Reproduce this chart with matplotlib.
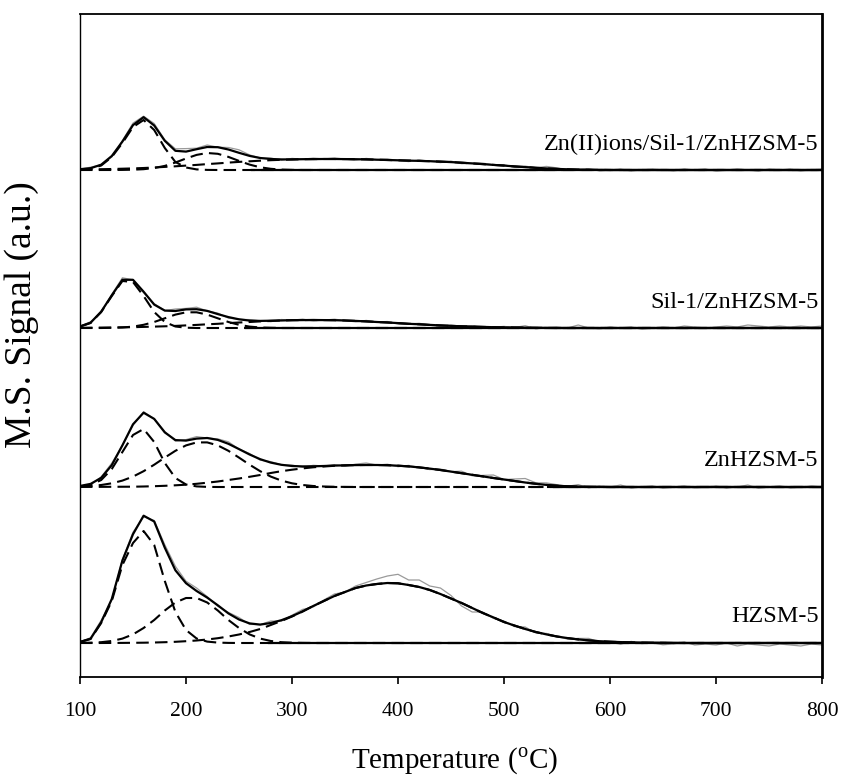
import numpy as np
import matplotlib.pyplot as plt

plt.rcParams['font.family'] = ['Liberation Serif', 'DejaVu Serif']
plt.rcParams['mathtext.fontset'] = 'custom'
plt.rcParams['mathtext.rm'] = 'Liberation Serif'

# temperature grid (deg C), 10 degree steps
temps = np.arange(100, 801, 10)

samples = ["HZSM-5", "ZnHZSM-5", "Sil-1/ZnHZSM-5", "Zn(II)ions/Sil-1/ZnHZSM-5"]

# deconvoluted peaks, starting at 100 C (zero after the list ends)
hzsm_p1 = [1, 4, 20, 42, 78, 100, 112, 98, 62, 31, 13, 4.5, 1.4, 0.4, 0.1]
hzsm_p2 = [0.1, 0.3, 0.8, 2, 4.4, 8.6, 15, 23, 32.5, 40.5, 45, 45, 40.5, 32.5, 23, 15,
           8.6, 4.4, 2, 0.8, 0.3, 0.1]
hzsm_p3 = [0, 0, 0, 0.05, 0.1, 0.2, 0.3, 0.5, 0.8, 1.2, 1.8, 2.5, 3.5, 4.8, 6.5, 8.5,
           11, 14, 18, 22, 26.5, 31.5, 37, 42, 47, 51, 55, 57.5, 59, 60, 59.7, 58, 56,
           53, 49, 44.5, 40, 35, 30, 25.6, 21, 17.4, 14, 11, 8.6, 6.5, 4.9, 3.6, 2.6,
           1.8, 1.3, 0.9, 0.6, 0.4, 0.3, 0.2, 0.1]

zn_p1 = [0.5, 2, 7, 18, 35, 52, 58, 45, 24, 9, 2.5, 0.6, 0.1]
zn_p2 = [0.5, 1, 2, 3.7, 6.4, 10.4, 15.8, 22.3, 29.4, 36.2, 41.6, 44.6, 44.6, 41.6,
         36.2, 29.4, 22.3, 15.8, 10.4, 6.4, 3.7, 2, 1, 0.5, 0.2, 0.1]
zn_p3 = [0.05, 0.1, 0.15, 0.2, 0.25, 0.3, 0.5, 0.8, 1.2, 1.7, 2.3, 3.2, 4.3, 5.5, 7,
         8.5, 10.2, 12, 14, 15.8, 17.3, 18.6, 19.7, 20.5, 21.2, 21.6, 21.9, 22, 22,
         21.8, 21.3, 20.6, 19.6, 18.4, 17, 15.4, 13.8, 12.2, 10.6, 9, 7.5, 6, 4.5,
         3.2, 2.1, 1.3, 0.7, 0.4, 0.2, 0.1]

sil_p1 = [1.4, 5, 16, 32, 47, 46, 32, 16, 6, 1.5, 0.3]
sil_p2 = [0, 0, 0, 0.2, 0.5, 1.4, 3.2, 6, 9.7, 13.4, 15.7, 15.7, 13.4, 9.7, 6, 3.2,
          1.4, 0.5, 0.2]
sil_p3 = [0.2, 0.3, 0.4, 0.5, 0.7, 0.8, 1.1, 1.4, 1.7, 2.1, 2.6, 3.1, 3.7, 4.2, 4.9,
          5.5, 6, 6.6, 7.1, 7.5, 7.8, 7.9, 8, 7.9, 7.8, 7.5, 7.1, 6.6, 6, 5.5, 4.9,
          4.2, 3.7, 3.1, 2.6, 2.1, 1.7, 1.4, 1.1, 0.8, 0.6, 0.5, 0.3, 0.2, 0.1]

znii_p1 = [0.3, 1.2, 4.5, 13, 27, 43, 50, 40, 22, 8, 2.5, 0.6, 0.1]
znii_p2 = [0, 0, 0, 0, 0.1, 0.3, 0.8, 2, 4.1, 7.5, 11.5, 15.1, 17, 16.2, 13.1, 9.1,
           5.4, 2.7, 1.2, 0.4, 0.1]
znii_p3 = [0.5, 0.6, 0.8, 1, 1.3, 1.6, 2, 2.5, 3.1, 3.7, 4.4, 5.1, 5.9, 6.6, 7.4, 8.1,
           8.7, 9.3, 9.8, 10.2, 10.5, 10.8, 10.9, 11, 11, 10.9, 10.8, 10.6, 10.3, 10,
           9.7, 9.4, 9.1, 8.8, 8.4, 7.9, 7.3, 6.6, 5.9, 5.1, 4.4, 3.6, 2.9, 2.2, 1.6,
           1.1, 0.7, 0.4, 0.2, 0.1]

# measured signal minus fit (the noisy grey trace), 100..800 C
hzsm_res = [0, 1, 2, -1, 1, 2, -1, 1, 3, 4, 2, 3, 1, -1, 1, 2, -1, 0, 2, -1, 1, 2, -1,
            1, 2, 0, 2, 3, 5, 7, 9, 5, 7, 4, 6, 3, -3, -4, 1, -1, 1, -1, 2, -1, 1, 0,
            -1, 1, 2, -1, 0, -2, 1, -1, 0, -2, -1, 1, -2, -1, -2, 0, -3, -1, -2, -3,
            -1, -2, -3, -1, -2]
zn_res = [0, -1, 1, 2, 0, -1, 1, 0, 1, -1, 1, 2, 0, 1, 2, 0, 1, -1, 1, 0, 1, -1, 1, 0,
          1, -1, 1, 2, 0, 1, -1, 1, 0, -1, 1, 0, 2, -1, 1, 3, 0, 2, 4, 1, 2, 1, 0, 2,
          -1, 1, 0, 2, -1, 0, 1, -1, 0, 1, -1, 0, 1, -1, 0, 2, -1, 0, 1, -1, 0, 1, 0]
sil_res = [0, 1, -1, 1, 2, 0, -1, 1, 0, 2, 1, 2, 0, 1, -1, 0, 1, 0, -1, 1, 0, 1, -1,
           0, 1, 0, -1, 1, 0, 1, -1, 0, 1, 0, -1, 1, 0, 1, -1, 0, 1, 0, 2, -1, 0, 1,
           0, 3, 0, -1, 1, 0, 1, -1, 0, 1, 0, 2, 1, 0, 1, 2, 1, 3, 2, 1, 2, 1, 2, 1, 2]
znii_res = [0, 1, 0, -1, 1, 2, 1, 2, 1, 2, 3, 1, 2, 0, 2, 3, 1, 0, 1, -1, 1, 0, 1, 0,
            1, 0, -1, 1, 0, 1, 0, -1, 1, 0, -1, 1, -1, 0, 1, 0, 1, -1, 1, 0, 2, 1,
            -1, 0, 1, -1, 0, 1, -1, 0, 1, 0, -1, 1, 0, 1, -1, 0, 1, 0, -1, 1, 0, 1,
            -1, 0, 1]

peaks = [
    [hzsm_p1, hzsm_p2, hzsm_p3],
    [zn_p1, zn_p2, zn_p3],
    [sil_p1, sil_p2, sil_p3],
    [znii_p1, znii_p2, znii_p3],
]
residuals = [hzsm_res, zn_res, sil_res, znii_res]

# vertical stacking offsets and where the solid baseline begins
offsets = [34, 190, 349, 507]
baseline_start = [278, 547, 257, 262]


def pad(vals):
    out = np.zeros(len(temps))
    out[:len(vals)] = vals
    return out


fig = plt.figure(figsize=(8.44, 7.8), dpi=100)
ax = fig.add_axes([80 / 844, 103 / 780, 742 / 844, 663 / 780])

for name, comps, res, off, t0 in zip(samples, peaks, residuals, offsets, baseline_start):
    comps = [pad(c) for c in comps]
    fit = np.sum(comps, axis=0)
    ax.plot(temps, fit + np.array(res) + off, color='#9a9a9a', lw=0.9, zorder=1)
    for c in comps:
        ax.plot(temps, c + off, color='black', lw=1.5, dashes=(6, 3), zorder=2)
    ax.plot([t0, 800], [off, off], color='black', lw=1.6, zorder=3)
    ax.plot(temps, fit + off, color='black', lw=1.6, zorder=4,
            solid_joinstyle='round')
    ax.text(797, off + 26, name, ha='right', va='center', fontsize=17.5)

ax.set_xlim(100, 800)
ax.set_ylim(0, 663)
ax.set_xticks(range(100, 801, 100))
ax.set_yticks([])
ax.tick_params(axis='x', direction='out', length=5, width=1.2, pad=13, labelsize=15.5)
for side, w in [('left', 1.0), ('top', 1.3), ('bottom', 1.3), ('right', 2.0)]:
    ax.spines[side].set_linewidth(w)

fig.text(454 / 844, 1 - 761 / 780, r'Temperature ($^{\rm o}$C)', ha='center', va='center',
         fontsize=21)
fig.text(22 / 844, 1 - 315 / 780, 'M.S. Signal (a.u.)', ha='center', va='center',
         rotation=90, fontsize=27)

fig.savefig('out.png', dpi=100)
